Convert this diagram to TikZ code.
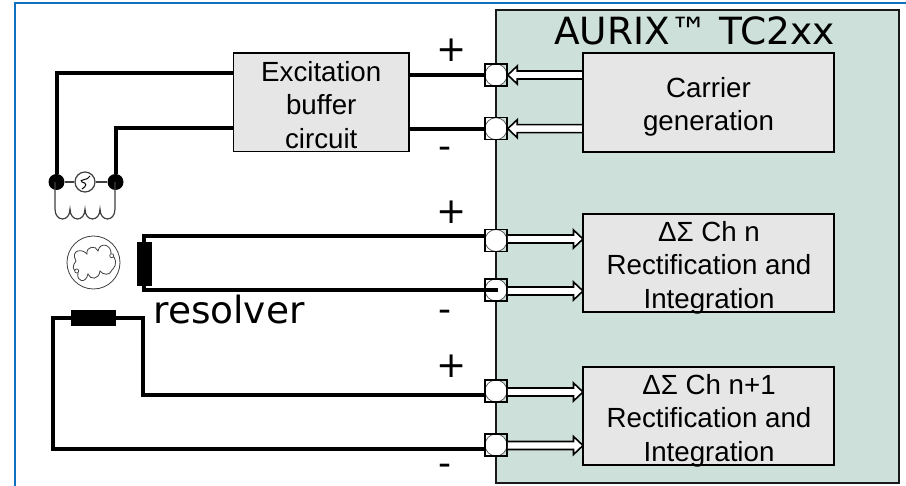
\documentclass[tikz,border=0pt]{standalone}
\usepackage{fontspec}
\setmainfont{Liberation Sans}
\newfontfamily\vfont{DejaVu Sans}
\usetikzlibrary{calc}
\definecolor{chip}{HTML}{CDE1DA}
\definecolor{blockgray}{HTML}{E7E6E6}
\definecolor{framebl}{HTML}{0F70C0}
\definecolor{thin}{HTML}{404040}
\tikzset{
  blockbox/.style={draw=black,line width=1.8pt,fill=blockgray,inner sep=0pt,align=center,font=\fontsize{27.7}{33.6}\selectfont,text=black},
  wire/.style={draw=black,line width=4pt},
  pinbox/.style={draw=black,line width=1.5pt,rectangle,minimum size=22pt,inner sep=0pt,
    path picture={\fill[white,draw=black!70,line width=.7pt] (path picture bounding box.center) circle (11pt);}},
  hollow/.style={draw=black,fill=white,line width=1.6pt,line join=miter},
  dotnode/.style={circle,fill=black,minimum size=16pt,inner sep=0pt},
  coilline/.style={draw=thin,line width=1.2pt},
  bigtxt/.style={font=\vfont\fontsize{37.5}{40}\selectfont,inner sep=0pt,text=black},
  signtxt/.style={font=\vfont\fontsize{36}{40}\selectfont,inner sep=0pt,text=black},
  statorbar/.style={fill=black,inner sep=0pt}
}
% #1 start, #2 tip, #3 +1 when the arrow runs left, -1 when it runs right
\newcommand{\hollowarrow}[3]{%
  \draw[hollow] ($(#1)+(0,-4)$) -- ($(#2)+(#3*9.5,-4)$) -- ($(#2)+(#3*9.5,-9)$) -- (#2)
    -- ($(#2)+(#3*9.5,9)$) -- ($(#2)+(#3*9.5,4)$) -- ($(#1)+(0,4)$);}
\begin{document}
\begin{tikzpicture}[x=1pt,y=-1pt]
\useasboundingbox (0,0) rectangle (906,486);
\fill[white] (0,0) rectangle (906,486);
% frame
\draw[framebl,line width=2pt] (15,486) -- (15,3) -- (906,3);
% chip
\node[draw=black!90,line width=1.6pt,fill=chip,minimum width=403pt,minimum height=473.3pt,inner sep=0pt] (chip) at (697.2,246.65) {};
\node[bigtxt,anchor=base] (title) at (694.5,45) {AURIX™ TC2xx};
% pins
\node[pinbox] (p1) at (496,75) {};
\node[pinbox] (p2) at (496,128.7) {};
\node[pinbox] (p3) at (496,240.5) {};
\node[pinbox] (p4) at (496,290) {};
\node[pinbox] (p5) at (496,391) {};
\node[pinbox] (p6) at (496,445) {};
% blocks
\node[blockbox,minimum width=175.5pt,minimum height=98.5pt] (exc) at (321.25,102.25) {};
\coordinate (c1) at (583,75);
\coordinate (c2) at (583,128.7);
\coordinate (c3) at (583,239);
\coordinate (c4) at (583,291);
\coordinate (c5) at (583,392);
\coordinate (c6) at (583,445.5);
\coordinate (s3) at (p3.east |- c3);
\coordinate (s4) at (p4.east |- c4);
\coordinate (s5) at (p5.east |- c5);
\coordinate (s6) at (p6.east |- c6);
% double arrows
\hollowarrow{c1}{p1.east}{1}
\hollowarrow{c2}{p2.east}{1}
\hollowarrow{s3}{c3}{-1}
\hollowarrow{s4}{c4}{-1}
\hollowarrow{s5}{c5}{-1}
\hollowarrow{s6}{c6}{-1}
\node[blockbox,minimum width=251pt,minimum height=98.4pt] (car) at (708.5,102.5) {};
\node[blockbox,minimum width=251pt,minimum height=97.7pt] (chn) at (708.5,262.85) {};
\node[blockbox,minimum width=251pt,minimum height=98.3pt] (chm) at (708.5,415.85) {};
\node[blockbox,draw=none,fill=none] (exct) at (321.25,105) {Excitation\\buffer\\circuit};
\node[blockbox,draw=none,fill=none] (cart) at (708.5,107) {Carrier\\generation};
\node[blockbox,draw=none,fill=none] (chnt) at (709,267.5) {ΔΣ Ch n\\Rectification and\\Integration};
\node[blockbox,draw=none,fill=none] (chmt) at (709,420.5) {ΔΣ Ch n+1\\Rectification and\\Integration};
% excitation side
\node[dotnode] (dl) at (56.5,182) {};
\node[dotnode] (dr) at (115.5,182) {};
\node[circle,draw=thin,fill=white,line width=1.2pt,minimum size=20pt,inner sep=0pt] (src) at (85,182) {};
\draw[coilline,line width=1.5pt] (dl) -- (src) (src) -- (dr);
\draw[thin,line width=1pt] ($(src.center)+(5,-6)$) .. controls ($(src.center)+(3,-1)$) and ($(src.center)+(-7,-3)$) .. ($(src.center)+(-3,0)$) .. controls ($(src.center)+(2,1)$) and ($(src.center)+(2,4)$) .. ($(src.center)+(-3,7)$);
\coordinate (e1) at (exc.west |- 0,73.3);
\coordinate (e2) at (exc.west |- 0,128.5);
\draw[wire] (e1) -| (dl);
\draw[wire] (e2) -| (dr);
\draw[wire] (exc.east |- p1) -- (p1.west);
\draw[wire] (exc.east |- p2) -- (p2.west);
% coil
\draw[coilline] (55,182) -- (55,209) .. controls (55,222.3) and (70,222.3) .. (70,209)
  .. controls (70,222.3) and (85,222.3) .. (85,209)
  .. controls (85,222.3) and (100,222.3) .. (100,209)
  .. controls (100,222.3) and (115,222.3) .. (115,209) -- (115,182);
% rotor
\node[circle,draw=thin,line width=.8pt,minimum size=53pt,inner sep=0pt] (rotor) at (93.5,262.5) {};
\draw[coilline,line width=.8pt] (76,261) .. controls (70,250) and (82,248) .. (87,254)
  .. controls (86,246) and (96,245) .. (98,251)
  .. controls (100,241) and (112,245) .. (111,254)
  .. controls (116,258) and (118,264) .. (112,270)
  .. controls (110,276) and (103,275) .. (100,271)
  .. controls (99,280) and (90,280) .. (88,274)
  .. controls (86,284) and (76,282) .. (78,273)
  .. controls (72,270) and (72,266) .. cycle;
\draw[coilline,line width=.7pt,fill=white] (111.7,255.7) circle (2pt) (76.7,271) circle (2pt);
% stator 1
\coordinate (s1t) at (144,235.7);
\coordinate (s1b) at (144,290);
\draw[wire] (p3.west |- s1t) -- (s1t) -- (s1b) -- (498,290);
\node[statorbar,minimum width=15pt,minimum height=44pt] (st1) at (144.5,264) {};
% stator 2
\coordinate (s2l) at (52.5,318);
\coordinate (s2r) at (142.5,318);
\coordinate (s2b) at (52.5,449);
\draw[wire] (p5.west |- 0,395) -| (s2r) -- (s2l) -- (s2b) -- (p6.west |- s2b);
\node[statorbar,minimum width=45.5pt,minimum height=15.7pt] (st2) at (93.7,318) {};
% labels
\node[bigtxt,anchor=base] (res) at (229,323.3) {resolver};
\node[signtxt] (pa) at (451.7,50) {+};
\node[signtxt] (pb) at (451.7,212) {+};
\node[signtxt] (pc) at (451.7,366) {+};
\node[signtxt] (ma) at (445,153) {-};
\node[signtxt] (mb) at (445,316) {-};
\node[signtxt] (mc) at (445,470) {-};
\end{tikzpicture}
\end{document}
